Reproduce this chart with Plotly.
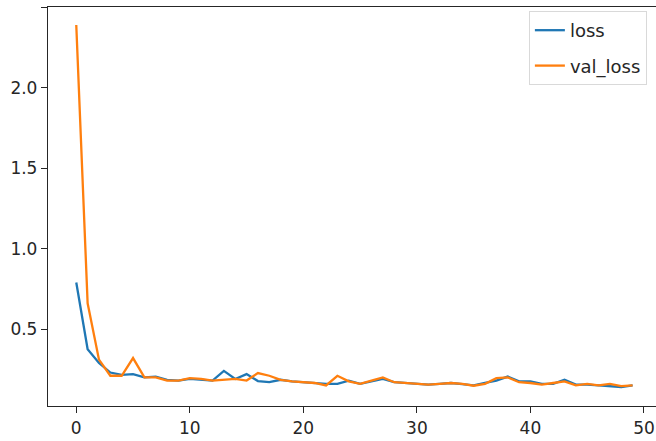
import plotly.graph_objects as go

epochs = list(range(50))
loss = [0.79, 0.375, 0.29, 0.23, 0.215, 0.22, 0.20, 0.205, 0.185, 0.18,
        0.19, 0.185, 0.18, 0.24, 0.19, 0.22, 0.177, 0.17, 0.185, 0.175,
        0.17, 0.165, 0.16, 0.16, 0.18, 0.16, 0.175, 0.19, 0.17, 0.165,
        0.16, 0.155, 0.16, 0.165, 0.158, 0.15, 0.165, 0.18, 0.205, 0.175,
        0.175, 0.16, 0.16, 0.185, 0.155, 0.155, 0.15, 0.145, 0.14, 0.15]
val_loss = [2.39, 0.66, 0.31, 0.21, 0.21, 0.32, 0.20, 0.20, 0.18, 0.18,
            0.195, 0.19, 0.18, 0.185, 0.19, 0.18, 0.227, 0.21, 0.185, 0.175,
            0.17, 0.165, 0.15, 0.21, 0.175, 0.16, 0.18, 0.20, 0.17, 0.165,
            0.16, 0.155, 0.16, 0.165, 0.16, 0.148, 0.16, 0.195, 0.20, 0.17,
            0.165, 0.155, 0.165, 0.175, 0.15, 0.16, 0.15, 0.16, 0.145, 0.15]

FONT = "DejaVu Sans"
fig = go.Figure()
fig.add_trace(go.Scatter(x=epochs, y=loss, mode="lines", name="loss", legendgroup="a",
                         line=dict(color="#1f77b4", width=2.3)))
fig.add_trace(go.Scatter(x=epochs, y=val_loss, mode="lines", name="val_loss", legendgroup="b",
                         line=dict(color="#ff7f0e", width=2.3)))

axis_common = dict(showgrid=False, zeroline=False, showline=True,
                   linecolor="#262626", linewidth=1.3,
                   ticks="outside", ticklen=6, tickwidth=1.3, tickcolor="#262626",
                   tickfont=dict(family=FONT, size=17, color="#262626"),
                   automargin=False)

fig.update_layout(
    width=656, height=441,
    margin=dict(l=48, r=0, t=7, b=35, autoexpand=False),
    paper_bgcolor="white", plot_bgcolor="white",
    font=dict(family=FONT, size=17, color="#262626"),
    xaxis=dict(range=[-2.49, 51.06], dtick=10, tick0=0, mirror=True, **axis_common),
    yaxis=dict(range=[0.022, 2.502], dtick=0.5, tick0=0.5, tickformat=".1f", **axis_common),
    legend=dict(x=0.985, y=0.99, xanchor="right", yanchor="top",
                bgcolor="white", bordercolor="#d9d9d9", borderwidth=1,
                traceorder="grouped", tracegroupgap=9,
                font=dict(family=FONT, size=18, color="#262626")),
    showlegend=True,
)

fig.write_html("out.html", config={"displayModeBar": False},
               post_script="document.body.style.margin='0px';document.body.style.overflow='hidden';")
